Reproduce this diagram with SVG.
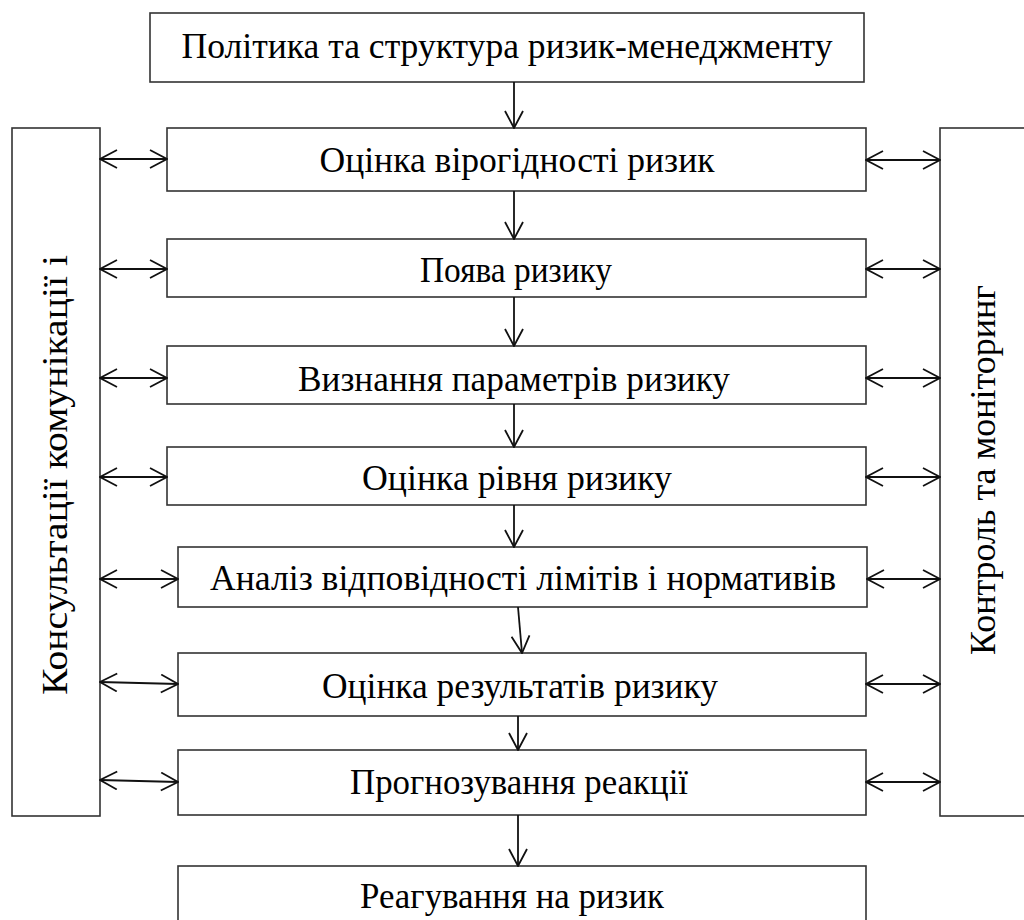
<svg xmlns="http://www.w3.org/2000/svg" width="1024" height="920" viewBox="0 0 1024 920">
<style>
.box{fill:#fff;stroke:#333;stroke-width:1.6}
.t{font-family:"Liberation Serif","Times New Roman",serif;font-size:35px;fill:#000;text-anchor:middle}
.c{stroke:#111;stroke-width:1.8;fill:none}
</style>
<defs>
<marker id="ah" viewBox="0 0 20 20" refX="19" refY="10" markerWidth="20" markerHeight="20" markerUnits="userSpaceOnUse" orient="auto-start-reverse">
<path d="M2,1 L19,10 L2,19" fill="none" stroke="#111" stroke-width="1.8"/>
</marker>
</defs>
<rect width="1024" height="920" fill="#fff"/>
<g id="policy"><rect class="box" x="150" y="13" width="714" height="69"/><text class="t" x="507" y="58" textLength="651" lengthAdjust="spacingAndGlyphs">Політика та структура ризик-менеджменту</text></g>
<g id="consult"><rect class="box" x="12" y="128" width="88" height="688"/><text class="t" transform="translate(67,475) rotate(-90)" textLength="440" lengthAdjust="spacingAndGlyphs">Консультації комунікації і</text></g>
<g id="control"><rect class="box" x="940" y="128" width="100" height="688"/><text class="t" transform="translate(995,470) rotate(-90)" textLength="370" lengthAdjust="spacingAndGlyphs">Контроль та моніторинг</text></g>
<g id="n1"><rect class="box" x="167" y="128" width="699" height="63"/><text class="t" x="517" y="172" textLength="395" lengthAdjust="spacingAndGlyphs">Оцінка вірогідності ризик</text></g>
<g id="n2"><rect class="box" x="167" y="239" width="699" height="58"/><text class="t" x="516" y="282" textLength="192" lengthAdjust="spacingAndGlyphs">Поява ризику</text></g>
<g id="n3"><rect class="box" x="167" y="346" width="699" height="58"/><text class="t" x="514" y="391" textLength="432" lengthAdjust="spacingAndGlyphs">Визнання параметрів ризику</text></g>
<g id="n4"><rect class="box" x="167" y="447" width="699" height="58"/><text class="t" x="517" y="490" textLength="310" lengthAdjust="spacingAndGlyphs">Оцінка рівня ризику</text></g>
<g id="n5"><rect class="box" x="178" y="547" width="689" height="60"/><text class="t" x="523" y="590" textLength="626" lengthAdjust="spacingAndGlyphs">Аналіз відповідності лімітів і нормативів</text></g>
<g id="n6"><rect class="box" x="178" y="653" width="688" height="63"/><text class="t" x="520" y="698" textLength="396" lengthAdjust="spacingAndGlyphs">Оцінка результатів ризику</text></g>
<g id="n7"><rect class="box" x="178" y="750" width="688" height="65"/><text class="t" x="519" y="794" textLength="338" lengthAdjust="spacingAndGlyphs">Прогнозування реакції</text></g>
<g id="n8"><rect class="box" x="178" y="866" width="688" height="60"/><text class="t" x="512" y="908" textLength="304" lengthAdjust="spacingAndGlyphs">Реагування на ризик</text></g>
<g id="connectors">
<line class="c" x1="514" y1="82" x2="514" y2="128" marker-end="url(#ah)"/>
<line class="c" x1="514" y1="191" x2="514" y2="239" marker-end="url(#ah)"/>
<line class="c" x1="514" y1="297" x2="514" y2="346" marker-end="url(#ah)"/>
<line class="c" x1="514" y1="404" x2="514" y2="447" marker-end="url(#ah)"/>
<line class="c" x1="514" y1="505" x2="514" y2="547" marker-end="url(#ah)"/>
<line class="c" x1="518" y1="607" x2="522" y2="653" marker-end="url(#ah)"/>
<line class="c" x1="518" y1="716" x2="518" y2="750" marker-end="url(#ah)"/>
<line class="c" x1="518" y1="815" x2="518" y2="866" marker-end="url(#ah)"/>
<line class="c" x1="100" y1="159" x2="167" y2="159" marker-start="url(#ah)" marker-end="url(#ah)"/>
<line class="c" x1="100" y1="269" x2="167" y2="269" marker-start="url(#ah)" marker-end="url(#ah)"/>
<line class="c" x1="100" y1="378" x2="167" y2="378" marker-start="url(#ah)" marker-end="url(#ah)"/>
<line class="c" x1="100" y1="477" x2="167" y2="477" marker-start="url(#ah)" marker-end="url(#ah)"/>
<line class="c" x1="100" y1="579" x2="178" y2="579" marker-start="url(#ah)" marker-end="url(#ah)"/>
<line class="c" x1="100" y1="682" x2="178" y2="684" marker-start="url(#ah)" marker-end="url(#ah)"/>
<line class="c" x1="100" y1="780" x2="178" y2="782" marker-start="url(#ah)" marker-end="url(#ah)"/>
<line class="c" x1="866" y1="160" x2="940" y2="160" marker-start="url(#ah)" marker-end="url(#ah)"/>
<line class="c" x1="866" y1="269" x2="940" y2="269" marker-start="url(#ah)" marker-end="url(#ah)"/>
<line class="c" x1="866" y1="378" x2="940" y2="378" marker-start="url(#ah)" marker-end="url(#ah)"/>
<line class="c" x1="866" y1="477" x2="940" y2="477" marker-start="url(#ah)" marker-end="url(#ah)"/>
<line class="c" x1="867" y1="579" x2="940" y2="579" marker-start="url(#ah)" marker-end="url(#ah)"/>
<line class="c" x1="866" y1="684" x2="940" y2="684" marker-start="url(#ah)" marker-end="url(#ah)"/>
<line class="c" x1="866" y1="782" x2="940" y2="782" marker-start="url(#ah)" marker-end="url(#ah)"/>
</g>
</svg>
